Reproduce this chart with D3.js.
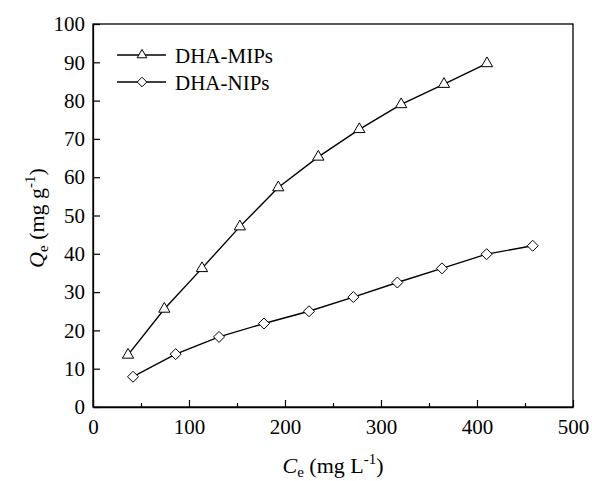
<!DOCTYPE html>
<html>
<head>
<meta charset="utf-8">
<script src="https://cdn.jsdelivr.net/npm/d3@7"></script>
<style>
  body { margin: 0; background: #fff; }
</style>
</head>
<body>
<div id="chart"></div>
<script>
// values
const mipsCe = [36.5, 74.3, 113.5, 153, 193, 234.7, 277.4, 321, 365.6, 410.4];
const mipsQe = [13.6, 25.6, 36.2, 47.1, 57.3, 65.3, 72.5, 79.0, 84.3, 89.7];
const nipsCe = [41.7, 86.1, 131.3, 178.1, 225, 271.2, 317, 363.5, 410, 458];
const nipsQe = [7.9, 13.8, 18.3, 21.8, 25.0, 28.7, 32.5, 36.2, 39.9, 42.1];
const xTicks = [0, 100, 200, 300, 400, 500];
const xMinor = [50, 150, 250, 350, 450];
const yTicks = [0, 10, 20, 30, 40, 50, 60, 70, 80, 90, 100];
const seriesNames = ["DHA-MIPs", "DHA-NIPs"];

const W = 592, H = 481;
const MARGIN = {top: 24, right: 19, bottom: 74, left: 93};
const w = W - MARGIN.left - MARGIN.right;
const h = H - MARGIN.top - MARGIN.bottom;

const svg = d3.select("#chart").append("svg")
    .attr("width", W).attr("height", H);
const g = svg.append("g").attr("transform", `translate(${MARGIN.left},${MARGIN.top})`);

const x = d3.scaleLinear().domain([0, 500]).range([0, w]);
const y = d3.scaleLinear().domain([0, 100]).range([h, 0]);

// frame
g.append("rect").attr("width", w).attr("height", h)
    .attr("fill", "none").attr("stroke", "#000").attr("stroke-width", 1.3);

// axes, ticks pointing in
g.append("g").attr("transform", `translate(0,${h})`)
    .call(d3.axisBottom(x).tickValues(xTicks).tickSizeInner(-7).tickSizeOuter(0).tickPadding(12));
g.append("g").attr("transform", `translate(0,${h})`)
    .call(d3.axisBottom(x).tickValues(xMinor).tickSizeInner(-4).tickSizeOuter(0).tickFormat(""))
    .call(a => a.select(".domain").remove());
g.append("g")
    .call(d3.axisLeft(y).tickValues(yTicks).tickSizeInner(-7).tickSizeOuter(0).tickPadding(8));

g.selectAll(".domain").attr("stroke", "#000").attr("stroke-width", 1.3);
g.selectAll(".tick line").attr("stroke", "#000").attr("stroke-width", 1.2);
g.selectAll(".tick text").attr("fill", "#000")
    .style("font-family", "Liberation Serif").style("font-size", "21px");

const line = d3.line().x(d => x(d[0])).y(d => y(d[1]));
const mips = mipsCe.map((c, i) => [c, mipsQe[i]]);
const nips = nipsCe.map((c, i) => [c, nipsQe[i]]);

const triangle = d3.symbol().type(d3.symbolTriangle).size(55);
const smallTriangle = d3.symbol().type(d3.symbolTriangle).size(40);
const diamond = "M0,-5.5L5.5,0L0,5.5L-5.5,0Z";
const smallDiamond = "M0,-4.8L4.8,0L0,4.8L-4.8,0Z";

function drawSeries(data, sym) {
    g.append("path").datum(data).attr("d", line)
        .attr("fill", "none").attr("stroke", "#000").attr("stroke-width", 1.4);
    g.selectAll(null).data(data).enter().append("path")
        .attr("transform", d => `translate(${x(d[0])},${y(d[1])})`)
        .attr("d", sym)
        .attr("fill", "#fff").attr("stroke", "#000").attr("stroke-width", 1);
}
drawSeries(mips, triangle);
drawSeries(nips, diamond);

// legend
const legend = svg.append("g");
[smallTriangle, smallDiamond].forEach((sym, i) => {
    const ly = 55 + i * 27;
    legend.append("line").attr("x1", 117).attr("x2", 166).attr("y1", ly).attr("y2", ly)
        .attr("stroke", "#000").attr("stroke-width", 1.4);
    legend.append("path").attr("transform", `translate(142,${ly})`).attr("d", sym)
        .attr("fill", "#fff").attr("stroke", "#000").attr("stroke-width", 1);
    legend.append("text").attr("x", 175).attr("y", ly + 8)
        .style("font-family", "Liberation Serif").style("font-size", "21px")
        .text(seriesNames[i]);
});

// axis titles
const xt = svg.append("text").attr("x", 333).attr("y", 473)
    .attr("text-anchor", "middle")
    .style("font-family", "Liberation Serif").style("font-size", "22px");
xt.append("tspan").style("font-style", "italic").text("C");
xt.append("tspan").attr("dy", 4).style("font-size", "15px").text("e");
xt.append("tspan").attr("dy", -4).text(" (mg L");
xt.append("tspan").attr("dy", -9).style("font-size", "15px").text("-1");
xt.append("tspan").attr("dy", 9).text(")");

const yt = svg.append("text").attr("transform", "translate(44,218) rotate(-90)")
    .attr("text-anchor", "middle")
    .style("font-family", "Liberation Serif").style("font-size", "22px");
yt.append("tspan").style("font-style", "italic").text("Q");
yt.append("tspan").attr("dy", 4).style("font-size", "15px").text("e");
yt.append("tspan").attr("dy", -4).text(" (mg g");
yt.append("tspan").attr("dy", -9).style("font-size", "15px").text("-1");
yt.append("tspan").attr("dy", 9).text(")");
</script>
</body>
</html>
